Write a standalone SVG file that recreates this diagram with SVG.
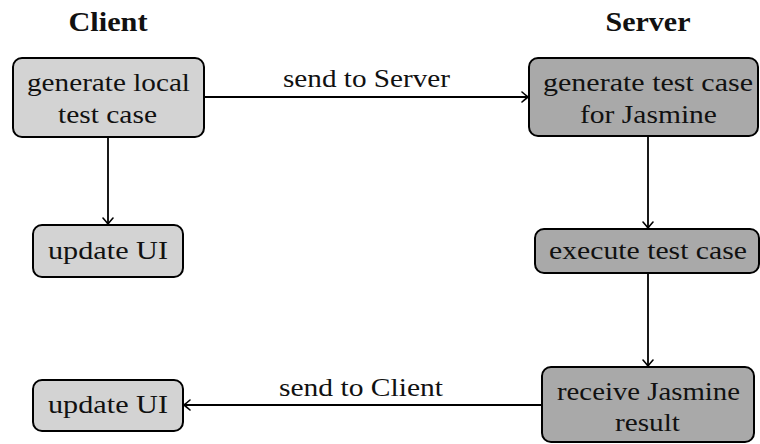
<svg xmlns="http://www.w3.org/2000/svg" width="760" height="444" viewBox="0 0 760 444">
  <style>
    .box { stroke: #000; stroke-width: 2; }
    .client { fill: #d3d3d3; }
    .server { fill: #a9a9a9; }
    text { font-family: "Liberation Serif", "Times New Roman", serif; fill: #111; text-anchor: middle; }
    .lbl { font-size: 26px; }
    .title { font-size: 28px; font-weight: bold; }
    .edge { stroke: #000; stroke-width: 1.8; fill: none; marker-end: url(#tip); }
  </style>
  <defs>
    <marker id="tip" viewBox="-8 -6 10 12" refX="0" refY="0" markerWidth="10" markerHeight="12" markerUnits="userSpaceOnUse" orient="auto">
      <path d="M -6 -5 Q -2 -1.5 0 0 Q -2 1.5 -6 5" fill="none" stroke="#000" stroke-width="1.6" stroke-linecap="round"/>
    </marker>
  </defs>
  <rect width="760" height="444" fill="#fff"/>

  <g id="headers">
    <text class="title" x="108" y="31" textLength="79" lengthAdjust="spacingAndGlyphs">Client</text>
    <text class="title" x="648" y="31" textLength="85" lengthAdjust="spacingAndGlyphs">Server</text>
  </g>

  <g id="connectors">
    <line class="edge" x1="204" y1="97" x2="528" y2="97"/>
    <text class="lbl" x="366.5" y="87" textLength="167" lengthAdjust="spacingAndGlyphs">send to Server</text>
    <line class="edge" x1="108" y1="137" x2="108" y2="224"/>
    <line class="edge" x1="648" y1="136" x2="648" y2="228"/>
    <line class="edge" x1="648" y1="273" x2="648" y2="366"/>
    <line class="edge" x1="542" y1="405" x2="184" y2="405"/>
    <text class="lbl" x="361" y="396" textLength="164" lengthAdjust="spacingAndGlyphs">send to Client</text>
  </g>

  <g id="gen-local">
    <rect class="box client" x="13" y="58" width="191" height="79" rx="9"/>
    <text class="lbl" x="108.5" y="91" textLength="163" lengthAdjust="spacingAndGlyphs">generate local</text>
    <text class="lbl" x="107.5" y="123" textLength="99" lengthAdjust="spacingAndGlyphs">test case</text>
  </g>

  <g id="update-ui-1">
    <rect class="box client" x="33" y="225" width="150" height="52" rx="9"/>
    <text class="lbl" x="108" y="259" textLength="120" lengthAdjust="spacingAndGlyphs">update UI</text>
  </g>

  <g id="gen-jasmine">
    <rect class="box server" x="529" y="58" width="229" height="78" rx="9"/>
    <text class="lbl" x="648" y="91" textLength="210" lengthAdjust="spacingAndGlyphs">generate test case</text>
    <text class="lbl" x="648.5" y="123" textLength="137" lengthAdjust="spacingAndGlyphs">for Jasmine</text>
  </g>

  <g id="execute">
    <rect class="box server" x="535" y="229" width="224" height="44" rx="9"/>
    <text class="lbl" x="648" y="259" textLength="198" lengthAdjust="spacingAndGlyphs">execute test case</text>
  </g>

  <g id="receive">
    <rect class="box server" x="542" y="367" width="212" height="75" rx="9"/>
    <text class="lbl" x="648.5" y="400" textLength="183" lengthAdjust="spacingAndGlyphs">receive Jasmine</text>
    <text class="lbl" x="647.5" y="431" textLength="65" lengthAdjust="spacingAndGlyphs">result</text>
  </g>

  <g id="update-ui-2">
    <rect class="box client" x="33" y="380" width="150" height="51" rx="9"/>
    <text class="lbl" x="108" y="413" textLength="120" lengthAdjust="spacingAndGlyphs">update UI</text>
  </g>
</svg>
